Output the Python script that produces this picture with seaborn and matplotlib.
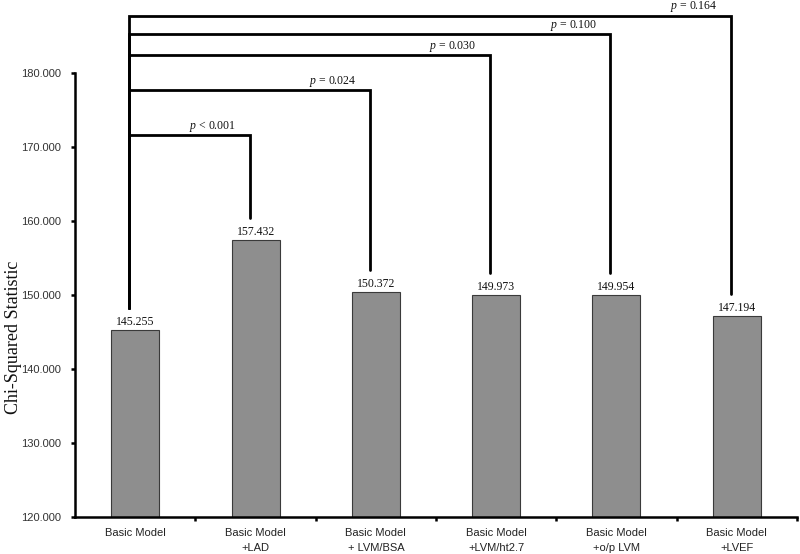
import matplotlib
matplotlib.use("Agg")
import matplotlib.pyplot as plt
import numpy as np
import pandas as pd
import seaborn as sns

models = ["Basic Model", "Basic Model\n+LAD", "Basic Model\n+ LVM/BSA",
          "Basic Model\n+LVM/ht2.7", "Basic Model\n+o/p LVM", "Basic Model\n+LVEF"]
chi2 = [145.255, 157.432, 150.372, 149.973, 149.954, 147.194]
p_labels = ["< 0.001", "= 0.024", "= 0.030", "= 0.100", "= 0.164"]
bracket_tops = [171.6, 177.7, 182.4, 185.3, 187.8]

sns.set_theme(style="white")
plt.rcParams["font.family"] = ["Liberation Sans", "DejaVu Sans"]
plt.rcParams["mathtext.fontset"] = "custom"
plt.rcParams["mathtext.it"] = "Liberation Serif:italic"
plt.rcParams["mathtext.rm"] = "Liberation Serif"

df = pd.DataFrame({"model": models, "chi2": chi2})

fig = plt.figure(figsize=(8, 5.54), dpi=100)
ax = fig.add_axes([0.094, 0.067, 0.902, 0.921])

sns.barplot(data=df, x="model", y="chi2", color="#8e8e8e", width=0.4,
            edgecolor="#3a3a3a", linewidth=0.8, saturation=1, ax=ax)

ax.set_ylim(120, 189)
ax.set_xlim(-0.5, 5.5)

# value labels on top of the bars
for i, v in enumerate(chi2):
    ax.text(i, v + 0.3, f"{v:.3f}", ha="center", va="bottom",
            fontsize=8.5, family="Liberation Serif", color="#111111")

# significance brackets from the basic model to each other model
lw = 2.0
left_x = 0 - 0.05
leg_gap = 3.0
for j, (top, plab) in enumerate(zip(bracket_tops, p_labels), start=1):
    right_x = j - 0.05
    ax.plot([left_x, left_x, right_x, right_x],
            [chi2[0] + leg_gap, top, top, chi2[j] + leg_gap],
            color="black", lw=lw, solid_joinstyle="miter", clip_on=False)
    ax.text(j - 0.36, top + 0.15, r"$\it{p}$ " + plab, ha="center", va="bottom",
            fontsize=8.5, family="Liberation Serif", color="#111111")

# axes styling
sns.despine(ax=ax, top=True, right=True)
ax.spines["left"].set_bounds(120, 180)
ax.spines["left"].set_linewidth(1.8)
ax.spines["bottom"].set_linewidth(1.8)
ax.spines["left"].set_color("black")
ax.spines["bottom"].set_color("black")

ax.set_yticks(np.arange(120, 181, 10))
ax.set_yticklabels([f"{t:.3f}" for t in np.arange(120, 181, 10)], fontsize=8, color="#333333")
ax.tick_params(axis="y", which="major", left=True, length=3, width=1.8, color="black", pad=7)

ax.set_xticks(range(len(models)))
ax.set_xticklabels(models, fontsize=8, color="#222222", linespacing=1.6)
ax.tick_params(axis="x", which="major", bottom=False, length=0, pad=8)
ax.set_xticks(np.arange(0.5, 6, 1.0), minor=True)
ax.tick_params(axis="x", which="minor", bottom=True, length=3, width=1.8, color="black")

ax.set_xlabel("")
ax.set_ylabel("Chi-Squared Statistic", fontsize=13, family="Liberation Serif", color="#111111")
ax.yaxis.set_label_coords(-0.074, (144.3 - 120) / 69)

fig.savefig("out.png", dpi=100)
